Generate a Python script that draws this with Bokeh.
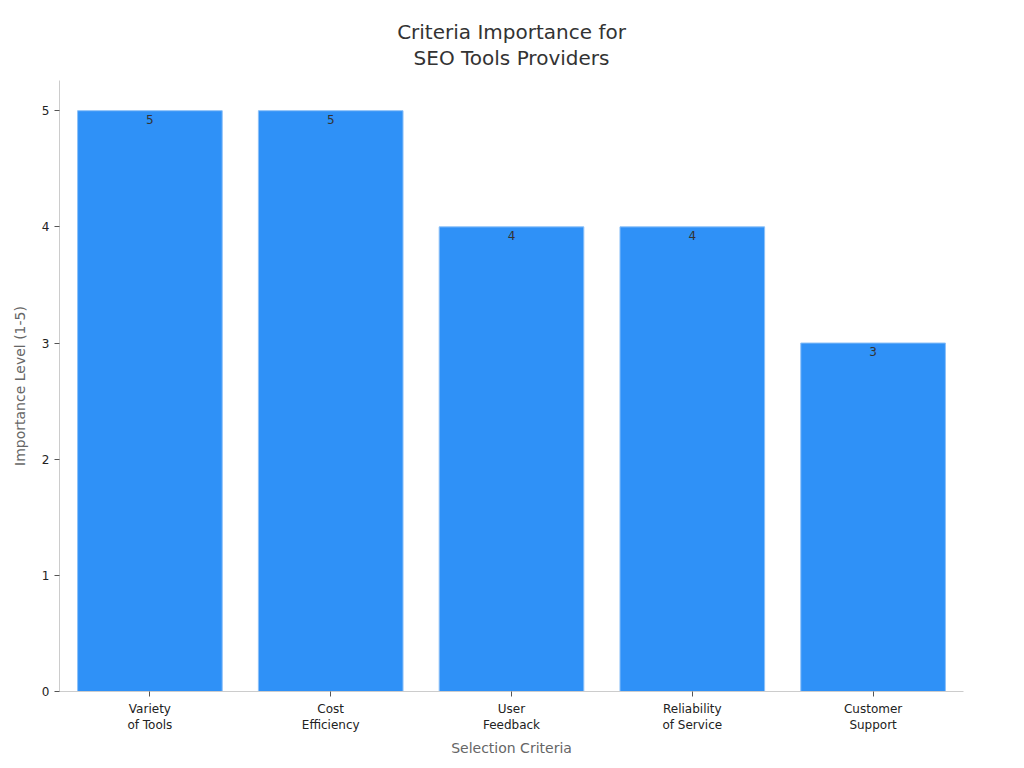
from bokeh.plotting import figure
from bokeh.models import ColumnDataSource, FixedTicker, Range1d, Title
from bokeh.embed import file_html
from bokeh.resources import INLINE

criteria = ["Variety\nof Tools", "Cost\nEfficiency", "User\nFeedback",
            "Reliability\nof Service", "Customer\nSupport"]
importance = [5, 5, 4, 4, 3]
value_labels = [str(v) for v in importance]
title_lines = ["Criteria Importance for", "SEO Tools Providers"]

FONT = "DejaVu Sans"

src = ColumnDataSource(data=dict(x=criteria, top=importance, label=value_labels))

p = figure(x_range=criteria, y_range=Range1d(0, 5.26),
           width=1008, height=760, output_backend="svg", toolbar_location=None,
           min_border_left=59, min_border_right=45, min_border_top=80,
           min_border_bottom=69,
           x_axis_label="Selection Criteria", y_axis_label="Importance Level (1-5)")

p.vbar(x="x", top="top", width=0.8, source=src,
       fill_color="#2f91f7", line_color="#8cc0f8", line_width=1)
p.text(x="x", y="top", text="label", source=src, y_offset=4,
       text_align="center", text_baseline="top", text_font_size="12px",
       text_color="#333333", text_font={"value": FONT})

# spacer between frame and title
p.add_layout(Title(text=" ", text_font_size="8px", standoff=0), "above")
# two-line centred title, added bottom line first
for line in reversed(title_lines):
    p.add_layout(Title(text=line, align="center", text_font=FONT,
                       text_font_size="20px", text_font_style="normal",
                       text_color="#333333", standoff=0), "above")

p.xgrid.visible = False
p.ygrid.visible = False
p.outline_line_color = None
p.x_range.range_padding = 0.0

p.yaxis.ticker = FixedTicker(ticks=[0, 1, 2, 3, 4, 5])
for ax in (p.xaxis, p.yaxis):
    ax.axis_line_color = "#cccccc"
    ax.major_tick_line_color = "#555555"
    ax.major_tick_in = 0
    ax.major_tick_out = 5
    ax.minor_tick_line_color = None
    ax.major_label_text_font = FONT
    ax.major_label_text_font_size = "12px"
    ax.major_label_text_color = "#222222"
    ax.axis_label_text_font = FONT
    ax.axis_label_text_font_size = "14px"
    ax.axis_label_text_font_style = "normal"
    ax.axis_label_text_color = "#666666"
p.yaxis.axis_label_standoff = 11

open("out.html", "w").write(file_html(p, INLINE))
